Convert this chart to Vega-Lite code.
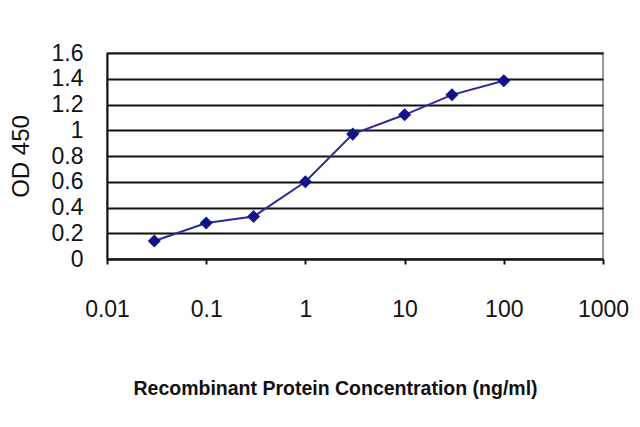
{
  "$schema": "https://vega.github.io/schema/vega-lite/v6.json",
  "autosize": "none",
  "width": 496,
  "height": 206,
  "padding": {"left": 107, "top": 53, "right": 37, "bottom": 168},
  "background": "#ffffff",
  "config": {
    "view": {"stroke": "#9a9a9a", "strokeWidth": 2},
    "axis": {
      "labelFont": "Liberation Sans",
      "titleFont": "Liberation Sans",
      "labelColor": "#111111",
      "titleColor": "#111111",
      "domainColor": "#111111",
      "domainWidth": 2
    }
  },
  "data": {
    "values": [
      {"conc": 0.03, "od": 0.14},
      {"conc": 0.1, "od": 0.28},
      {"conc": 0.3, "od": 0.33},
      {"conc": 1, "od": 0.6},
      {"conc": 3, "od": 0.97},
      {"conc": 10, "od": 1.12},
      {"conc": 30, "od": 1.275},
      {"conc": 100, "od": 1.385}
    ]
  },
  "mark": {
    "type": "line",
    "color": "#2b2ba0",
    "strokeWidth": 2,
    "point": {"shape": "diamond", "filled": true, "size": 170, "color": "#12128a"}
  },
  "encoding": {
    "x": {
      "field": "conc",
      "type": "quantitative",
      "scale": {"type": "log", "domain": [0.01, 1000], "nice": false},
      "axis": {
        "title": "Recombinant Protein Concentration (ng/ml)",
        "values": [0.01, 0.1, 1, 10, 100, 1000],
        "format": "~g",
        "grid": false,
        "tickColor": "#111111",
        "tickWidth": 2,
        "tickSize": 5,
        "labelFontSize": 23,
        "labelPadding": 34,
        "labelFlush": false,
        "titleFontSize": 19.5,
        "titleFontWeight": "bold",
        "titleX": 228,
        "titlePadding": 58
      }
    },
    "y": {
      "field": "od",
      "type": "quantitative",
      "scale": {"domain": [0, 1.6], "nice": false},
      "axis": {
        "title": "OD 450",
        "values": [0, 0.2, 0.4, 0.6, 0.8, 1, 1.2, 1.4, 1.6],
        "format": "~g",
        "grid": true,
        "gridColor": "#111111",
        "gridWidth": 2,
        "gridOpacity": 1,
        "ticks": false,
        "labelFontSize": 23,
        "labelPadding": 24,
        "labelFlush": false,
        "titleFontSize": 24,
        "titleFontWeight": "normal",
        "titlePadding": 18
      }
    }
  }
}
